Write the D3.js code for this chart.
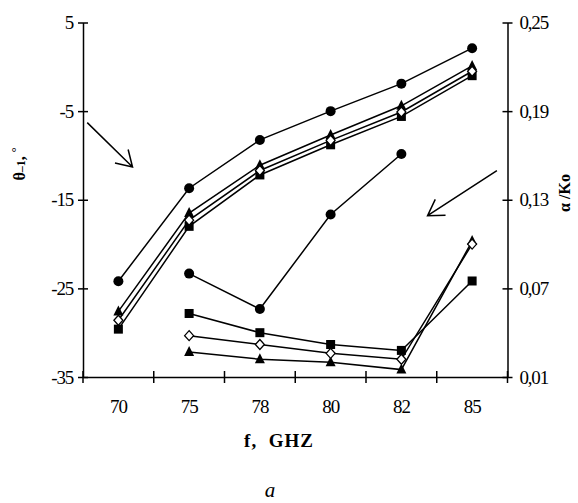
<!DOCTYPE html>
<html><head><meta charset="utf-8">
<script src="https://cdn.jsdelivr.net/npm/d3@7"></script>
<style>body{margin:0;background:#fff}svg{display:block}text{font-family:'Liberation Serif';fill:#000}</style>
</head><body>
<script>
// ---- data ----
const categories = ["70","75","78","80","82","85"];
const leftTicks = [5,-5,-15,-25,-35];
const rightTicks = [0.01,0.07,0.13,0.19,0.25];
// theta_-1 (left axis)
const thetaCircle   = [-24.2,-13.7,-8.25,-5.0,-1.9,2.1];
const thetaTriangle = [-27.6,-16.5,-11.1,-7.7,-4.4,0.1];
const thetaDiamond  = [-28.6,-17.3,-11.7,-8.3,-5.1,-0.5];
const thetaSquare   = [-29.6,-18.0,-12.2,-8.8,-5.6,-1.0];
// alpha/Ko (right axis), categories 75..85
const alphaCats     = ["75","78","80","82","85"];
const alphaCircle   = [0.080,0.056,0.120,0.161,null];
const alphaSquare   = [0.053,0.040,0.032,0.028,0.075];
const alphaDiamond  = [0.038,0.032,0.026,0.022,0.100];
const alphaTriangle = [0.027,0.022,0.020,0.015,0.102];
// arrows: [category index, theta] from -> to
const arrowLeft  = [[-0.44,-6.3],[0.20,-11.3]];
const arrowRight = [[5.35,-11.7],[4.37,-16.8]];

const W=578,H=503;
const FF="'Liberation Serif'";
const svg=d3.select("body").append("svg").attr("width",W).attr("height",H);
const x=d3.scaleBand().domain(categories).range([83,507.5]).padding(0);
const xc=c=>x(c)+x.bandwidth()/2;
const xi=i=>x.range()[0]+(i+0.5)*x.bandwidth();
const yL=d3.scaleLinear().domain([-35,5]).range([377,22.5]);
const yR=d3.scaleLinear().domain([0.01,0.25]).range([377,22.5]);

const fmtR=d=>d3.format(".2f")(d).replace(".",",");

// left axis
const gL=svg.append("g").attr("transform",`translate(${x.range()[0]},0)`)
  .call(d3.axisLeft(yL).tickValues(leftTicks).tickSizeInner(5).tickSizeOuter(0).tickPadding(5).tickFormat(d=>String(d)));
gL.selectAll(".tick line").attr("x1",5);
// right axis
const gR=svg.append("g").attr("transform",`translate(${x.range()[1]},0)`)
  .call(d3.axisRight(yR).tickValues(rightTicks).tickSizeInner(5).tickSizeOuter(0).tickPadding(7).tickFormat(fmtR));
gR.selectAll(".tick line").attr("x1",-5);
// bottom axis
const gB=svg.append("g").attr("transform",`translate(0,${yL(-35)})`)
  .call(d3.axisBottom(x).tickSize(0).tickPadding(23));
const bounds=categories.map(c=>x(c)).concat([x.range()[1]]);
gB.selectAll(".bt").data(bounds).enter().append("line").attr("class","bt")
  .attr("x1",d=>d).attr("x2",d=>d).attr("y1",-6).attr("y2",6).attr("stroke","#000").attr("stroke-width",1.5);
[gL,gR,gB].forEach(g=>{
  g.attr("font-family",FF).attr("font-size",19);
  g.select(".domain").attr("stroke","#000").attr("stroke-width",1.5);
  g.selectAll(".tick line").attr("stroke","#000").attr("stroke-width",1.5);
  g.selectAll("text").attr("font-family",FF).attr("font-size",19).attr("letter-spacing","-1.2");
});

// markers
function marker(g,type,px,py){
  if(type==="circle") g.append("circle").attr("cx",px).attr("cy",py).attr("r",5).attr("fill","#000");
  else if(type==="square") g.append("rect").attr("x",px-4.5).attr("y",py-4.5).attr("width",9).attr("height",9).attr("fill","#000");
  else if(type==="triangle") g.append("path").attr("d",`M${px},${py-6}L${px+5},${py+4}L${px-5},${py+4}Z`).attr("fill","#000");
  else if(type==="diamond") g.append("path").attr("d",`M${px},${py-5}L${px+4.5},${py}L${px},${py+5}L${px-4.5},${py}Z`).attr("fill","#fff").attr("stroke","#000").attr("stroke-width",1.3);
}
function series(cats,vals,yS,type){
  const pts=cats.map((c,i)=>[xc(c),vals[i]]).filter(p=>p[1]!=null).map(p=>[p[0],yS(p[1])]);
  const g=svg.append("g");
  g.append("path").attr("d",d3.line()(pts)).attr("fill","none").attr("stroke","#000").attr("stroke-width",1.5);
  return {g,pts,type};
}
const all=[
  series(categories,thetaSquare,yL,"square"),
  series(categories,thetaTriangle,yL,"triangle"),
  series(categories,thetaDiamond,yL,"diamond"),
  series(categories,thetaCircle,yL,"circle"),
  series(alphaCats,alphaSquare,yR,"square"),
  series(alphaCats,alphaTriangle,yR,"triangle"),
  series(alphaCats,alphaDiamond,yR,"diamond"),
  series(alphaCats,alphaCircle,yR,"circle")
];
all.forEach(s=>s.pts.forEach(p=>marker(s.g,s.type,p[0],p[1])));

// arrows
function arrow(a){
  const x0=xi(a[0][0]),y0=yL(a[0][1]),x1=xi(a[1][0]),y1=yL(a[1][1]);
  const ang=Math.atan2(y0-y1,x0-x1),L=18,sp=0.55;
  const p=d3.path();
  p.moveTo(x0,y0);p.lineTo(x1,y1);
  p.moveTo(x1+L*Math.cos(ang+sp),y1+L*Math.sin(ang+sp));p.lineTo(x1,y1);
  p.lineTo(x1+L*Math.cos(ang-sp),y1+L*Math.sin(ang-sp));
  svg.append("path").attr("d",p.toString()).attr("fill","none").attr("stroke","#000").attr("stroke-width",1.5);
}
arrow(arrowLeft);arrow(arrowRight);

// titles
const tl=svg.append("text").attr("transform","translate(25,164) rotate(-90)").attr("text-anchor","middle")
  .attr("font-family",FF).attr("font-weight","bold").attr("font-size",16);
tl.append("tspan").text("θ");
tl.append("tspan").attr("font-size",12).text("–1");
tl.append("tspan").text(", ");
tl.append("tspan").attr("font-size",12).attr("dy",-5).text("°");
svg.append("text").attr("transform","translate(570,193) rotate(-90)").attr("text-anchor","middle")
  .attr("font-family",FF).attr("font-weight","bold").attr("font-size",16).text("α /Ko");
svg.append("text").attr("x",279).attr("y",447).attr("text-anchor","middle")
  .attr("font-family",FF).attr("font-weight","bold").attr("font-size",19).attr("letter-spacing","1").attr("xml:space","preserve").text("f,  GHZ");
svg.append("text").attr("x",270).attr("y",497).attr("text-anchor","middle")
  .attr("font-family",FF).attr("font-style","italic").attr("font-size",21).text("a");
</script>
</body></html>
